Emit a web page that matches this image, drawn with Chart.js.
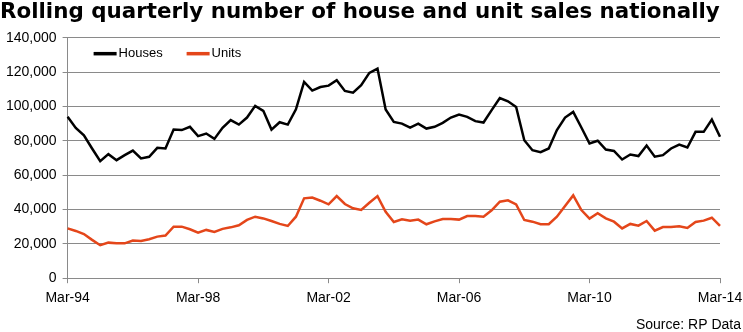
<!DOCTYPE html>
<html>
<head>
<meta charset="utf-8">
<script src="https://cdn.jsdelivr.net/npm/chart.js@4.4.1/dist/chart.umd.min.js"></script>
<style>
  body { margin: 0; background: #fff; }
  canvas { display: block; }
</style>
</head>
<body>
<canvas id="salesChart" width="743" height="332"></canvas>
<script>
// Quarterly labels, Mar-94 .. Mar-14
const months = ['Mar', 'Jun', 'Sep', 'Dec'];
const quarters = [];
for (let y = 1994; y <= 2014; y++) {
    for (const m of months) {
        if (y === 2014 && m !== 'Mar') break;
        quarters.push(m + '-' + String(y).slice(2));
    }
}

// Rolling quarterly sales
const houses = [
    94000, 87500, 83200, 75500, 68100, 72200, 68700, 71600, 74300, 69700,
    70700, 75900, 75500, 86500, 86200, 88100, 82700, 84200, 81100, 87500,
    92000, 89400, 93500, 100300, 97400, 86500, 90800, 89400, 98300, 114200,
    109200, 111300, 112100, 115200, 109000, 108000, 112300, 119500, 122000, 98200,
    91000, 90000, 87700, 90000, 87100, 88100, 90400, 93500, 95300, 93900,
    91400, 90600, 97800, 104900, 103000, 99700, 80300, 74500, 73400, 75500,
    86200, 93500, 96800, 87700, 78400, 80000, 74900, 74100, 69100, 72000,
    71100, 77200, 70700, 71600, 75500, 77800, 76100, 85200, 85200, 92300,
    82300
];
const units = [
    29000, 27500, 25700, 22300, 19200, 20700, 20300, 20300, 21900, 21700,
    22700, 24200, 24800, 30000, 30000, 28500, 26500, 28100, 26900, 28700,
    29600, 30800, 33900, 35800, 34800, 33300, 31600, 30400, 35800, 46500,
    46900, 45100, 43000, 47800, 43200, 40700, 39700, 43900, 47800, 38700,
    32700, 34300, 33500, 34100, 31400, 33100, 34500, 34500, 34100, 36200,
    36200, 35800, 39500, 44500, 45300, 43000, 33900, 32900, 31400, 31400,
    35800, 42000, 48200, 39700, 34700, 37800, 34800, 32900, 29000, 31600,
    30600, 33300, 27700, 29800, 29800, 30200, 29200, 32700, 33500, 35200,
    30400
];
const yTicks = [0, 20000, 40000, 60000, 80000, 100000, 120000, 140000];
const labelEvery = 16;

const gridColor = '#8a8a8a';
const sans = "'Liberation Sans', Arial, sans-serif";
const narrow = "'Liberation Sans Narrow', 'Liberation Sans', Arial, sans-serif";

// legend drawn inside the plot, top-left, like the original
const insideLegend = {
    id: 'insideLegend',
    afterDraw(chart) {
        const ctx = chart.ctx;
        const area = chart.chartArea;
        let x = area.left + 26;
        const y = area.top + 16;
        ctx.save();
        ctx.font = '13px ' + sans;
        ctx.textBaseline = 'middle';
        chart.data.datasets.forEach(ds => {
            ctx.strokeStyle = ds.borderColor;
            ctx.lineWidth = 3.5;
            ctx.beginPath();
            ctx.moveTo(x, y);
            ctx.lineTo(x + 23, y);
            ctx.stroke();
            ctx.fillStyle = '#000';
            ctx.fillText(ds.label, x + 25, y);
            x += 93;
        });
        ctx.restore();
    }
};

new Chart(document.getElementById('salesChart'), {
    type: 'line',
    data: {
        labels: quarters,
        datasets: [{
            label: 'Houses',
            data: houses,
            borderColor: '#000000',
            backgroundColor: '#000000',
            borderWidth: 2.5,
            pointRadius: 0,
            tension: 0
        }, {
            label: 'Units',
            data: units,
            borderColor: '#E4461A',
            backgroundColor: '#E4461A',
            borderWidth: 2.5,
            pointRadius: 0,
            tension: 0
        }]
    },
    plugins: [insideLegend],
    options: {
        responsive: false,
        animation: false,
        devicePixelRatio: 1,
        layout: { padding: { left: 0, right: 2, top: 0, bottom: 0 } },
        plugins: {
            title: {
                display: true,
                text: 'Rolling quarterly number of house and unit sales nationally',
                align: 'start',
                color: '#000',
                font: { family: "'DejaVu Sans', sans-serif", size: 21.4, weight: 'bold' },
                padding: { top: 0, bottom: 12 }
            },
            subtitle: {
                display: true,
                position: 'bottom',
                align: 'end',
                text: 'Source: RP Data',
                color: '#000',
                font: { family: narrow, size: 14, lineHeight: 1 },
                padding: { top: 4, bottom: 0 }
            },
            legend: { display: false },
            tooltip: { enabled: false }
        },
        scales: {
            x: {
                offset: false,
                afterFit: axis => { axis.paddingRight = 23; },
                grid: {
                    drawOnChartArea: false,
                    tickLength: 5,
                    color: ctx => ctx.index % labelEvery === 0 ? gridColor : 'rgba(0,0,0,0)'
                },
                border: { color: gridColor },
                ticks: {
                    autoSkip: false,
                    maxRotation: 0,
                    color: '#000',
                    padding: 7,
                    font: { family: narrow, size: 14 },
                    callback: (v, i) => i % labelEvery === 0 ? quarters[i] : ''
                }
            },
            y: {
                min: yTicks[0],
                max: yTicks[yTicks.length - 1],
                afterBuildTicks: axis => { axis.ticks = yTicks.map(v => ({ value: v })); },
                grid: { color: gridColor, tickLength: 5 },
                border: { color: gridColor },
                ticks: {
                    color: '#000',
                    padding: 6,
                    font: { family: sans, size: 14 },
                    callback: v => v.toLocaleString('en-US')
                }
            }
        }
    }
});
</script>
</body>
</html>
